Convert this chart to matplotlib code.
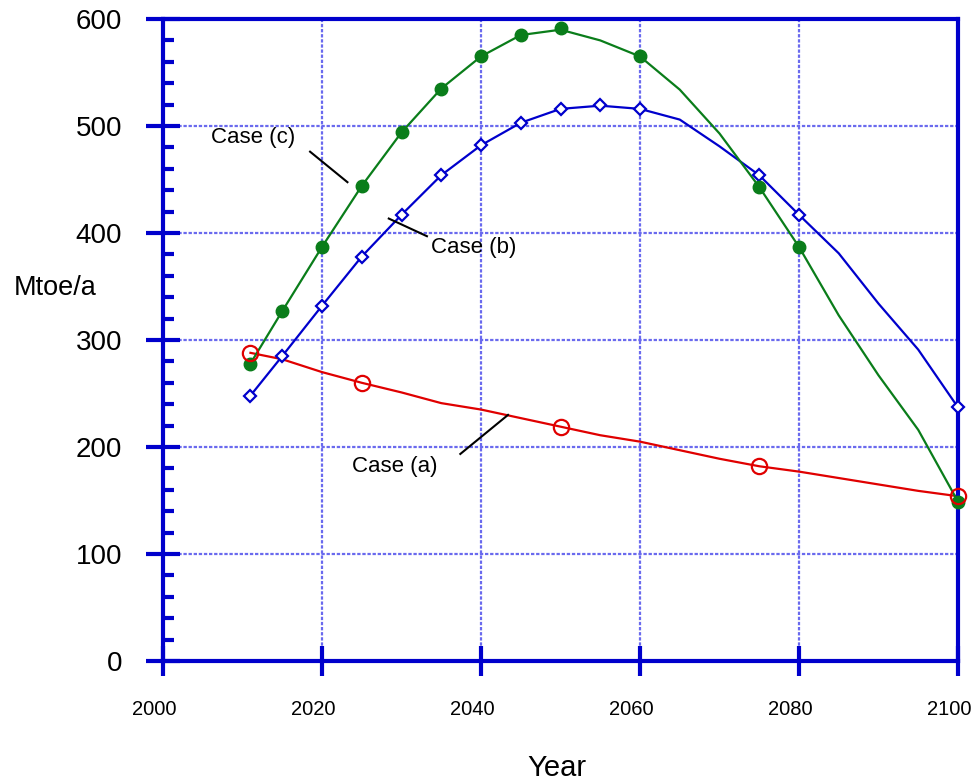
#!/usr/bin/env python3
# -*- coding: utf-8 -*-
"""
Energy supply scenarios, cases (a), (b) and (c), 2011-2100.
"""

import numpy as np
import matplotlib
matplotlib.use("Agg")
import matplotlib.pyplot as plt
import matplotlib.transforms as mtransforms

# line data (Mtoe/a)
years_line = [2011, 2015, 2020, 2025, 2030, 2035, 2040, 2045, 2050, 2055,
              2060, 2065, 2070, 2075, 2080, 2085, 2090, 2095, 2100]
case_a_line = [288, 282, 270, 260, 251, 241, 235, 227, 219, 211,
               205, 197, 189, 182, 177, 171, 165, 159, 154]
case_b_line = [248, 285, 332, 378, 417, 454, 482, 503, 516, 519,
               516, 506, 481, 454, 417, 381, 334, 291, 237]
case_c_line = [278, 327, 387, 444, 494, 535, 565, 585, 590, 580,
               565, 534, 493, 443, 387, 323, 267, 216, 149]

# marker points
years_a = [2011, 2025, 2050, 2075, 2100]
case_a = [288, 260, 219, 182, 154]
years_b = [2011, 2015, 2020, 2025, 2030, 2035, 2040, 2045, 2050, 2055,
           2060, 2075, 2080, 2100]
case_b = [248, 285, 332, 378, 417, 454, 482, 503, 516, 520,
          516, 454, 417, 237]
years_c = [2011, 2015, 2020, 2025, 2030, 2035, 2040, 2045, 2050,
           2060, 2075, 2080, 2100]
case_c = [278, 327, 387, 444, 494, 535, 565, 585, 592,
          565, 443, 387, 149]

x_ticks = [2000, 2020, 2040, 2060, 2080, 2100]
y_ticks = [0, 100, 200, 300, 400, 500, 600]

plt.rcParams['font.family'] = ['Liberation Sans', 'DejaVu Sans']

axblue = '#0000cc'
gridblue = '#6a6aee'

fig = plt.figure(figsize=(9.74, 7.82), dpi=100)
ax = fig.add_axes([163/974, 1-661/782, (958-163)/974, (661-19)/782])

ax.set_xlim(2000, 2100)
ax.set_ylim(0, 600)

# curves
ax.plot(years_line, case_a_line, color='#e00000', lw=1.6, zorder=3)
ax.plot(years_line, case_b_line, color='#0000cc', lw=1.6, zorder=3)
ax.plot(years_line, case_c_line, color='#0a7d1a', lw=1.6, zorder=3)

# markers
ax.plot(years_a, case_a, ls='none', marker='o', ms=11, mfc='none',
        mec='#e00000', mew=1.6, zorder=6, clip_on=False)
ax.plot(years_b, case_b, ls='none', marker='D', ms=6, mfc='white',
        mec='#0000cc', mew=1.6, zorder=5, clip_on=False)
ax.plot(years_c, case_c, ls='none', marker='o', ms=9, color='#0a7d1a',
        zorder=5, clip_on=False)

# labels with leader lines
ax.text(2011.3, 488.8, 'Case (c)', fontsize=16, ha='center', va='center')
ax.plot([2018.5, 2023.2], [476.0, 447.5], color='black', lw=1.5, zorder=4)
ax.text(2039.1, 386.9, 'Case (b)', fontsize=16, ha='center', va='center')
ax.plot([2028.4, 2033.2], [413.5, 397.0], color='black', lw=1.5, zorder=4)
ax.text(2029.1, 182.2, 'Case (a)', fontsize=16, ha='center', va='center')
ax.plot([2037.4, 2043.4], [193.5, 230.0], color='black', lw=1.5, zorder=4)

# grid
ax.set_xticks(x_ticks)
ax.set_yticks(y_ticks)
ax.set_yticks(np.arange(0, 601, 20), minor=True)
ax.grid(True, which='major', color=gridblue, ls=(0, (1.5, 0.8)), lw=1.6)
ax.set_axisbelow(True)

for s in ax.spines.values():
    s.set_color(axblue)
    s.set_linewidth(3)
    s.set_zorder(4)

ax.tick_params(axis='y', which='major', direction='inout', length=25,
               width=3, color=axblue, labelsize=20, pad=17)
ax.tick_params(axis='y', which='minor', direction='in', length=8,
               width=3, color=axblue)
ax.tick_params(axis='x', which='major', direction='inout', length=22,
               width=3, color=axblue, labelsize=14.5, pad=17)

# x labels sit a little left of their ticks
shift = mtransforms.ScaledTranslation(-9/100, 0, fig.dpi_scale_trans)
for lab in ax.get_xticklabels():
    lab.set_transform(lab.get_transform() + shift)

fig.text(55/974, 1-288/782, 'Mtoe/a', fontsize=19.5, ha='center', va='center')
fig.text(557/974, 1-768/782, 'Year', fontsize=21, ha='center', va='center')

fig.savefig('out.png', dpi=100)
